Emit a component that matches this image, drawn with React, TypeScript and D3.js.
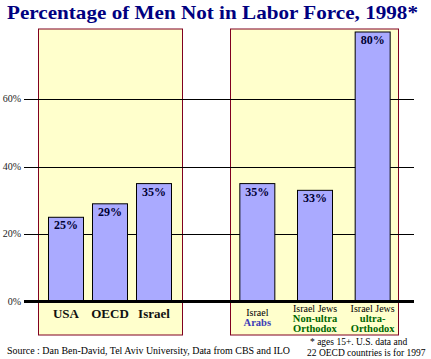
import React from 'react';
import * as d3 from 'd3';

const W = 431;
const H = 359;

// data
const leftCats = ['USA', 'OECD', 'Israel'];
const leftValues = [25, 29, 35];
const rightCats = ['Arabs', 'Non-ultra', 'ultra-'];
const rightValues = [35, 33, 80];
const yTicks = [0, 20, 40, 60];
const rightLabels = [
  ['Israel', 'Arabs'],
  ['Israel Jews', 'Non-ultra', 'Orthodox'],
  ['Israel Jews', 'ultra-', 'Orthodox'],
];

const TITLE = 'Percentage of Men Not in Labor Force, 1998*';
const SOURCE = 'Source : Dan Ben-David, Tel Aviv University, Data from CBS and ILO';
const NOTE = ['* ages 15+. U.S. data and', '22 OECD countries is for 1997'];

const serif = 'Liberation Serif, DejaVu Serif, Times New Roman, serif';
const barFill = '#aaaaff';
const panelFill = '#ffffcc';
const panelStroke = '#800020';
const navy = '#000080';

const App: React.FC = () => {
  const y = d3.scaleLinear().domain([0, 80]).range([301.5, 32]);
  const xLeft = d3.scalePoint<string>().domain(leftCats).range([44, 176]).padding(0.5);
  const xRight = d3.scalePoint<string>().domain(rightCats).range([228.5, 401.5]).padding(0.5);
  const barW = 35;

  const panels = [
    { x: 38.5, w: 144 },
    { x: 230.5, w: 168 },
  ];

  const bars = [
    ...leftCats.map((c, i) => ({ cx: xLeft(c)!, v: leftValues[i] })),
    ...rightCats.map((c, i) => ({ cx: xRight(c)!, v: rightValues[i] })),
  ];

  return (
    <svg
      width={W}
      height={H}
      style={{ position: 'absolute', left: 0, top: 0, background: '#fff', fontFamily: serif }}
    >
      <text
        x={7}
        y={19}
        fontWeight="bold"
        fontSize={19}
        fill={navy}
        textLength={411}
        lengthAdjust="spacingAndGlyphs"
      >
        {TITLE}
      </text>

      {panels.map((p, i) => (
        <rect
          key={i}
          x={p.x}
          y={29}
          width={p.w}
          height={306}
          fill={panelFill}
          stroke={panelStroke}
          strokeWidth={1}
        />
      ))}

      {yTicks.filter((t) => t > 0).map((t) => (
        <line key={t} x1={24} x2={414} y1={Math.round(y(t)) + 0.5} y2={Math.round(y(t)) + 0.5} stroke="#000" strokeWidth={1} />
      ))}

      {yTicks.map((t) => (
        <text key={t} x={21} y={y(t) + 3} textAnchor="end" fontSize={10} fill="#222">
          {t}%
        </text>
      ))}

      {bars.map((b, i) => (
        <g key={i}>
          <rect
            x={b.cx - barW / 2}
            y={y(b.v)}
            width={barW}
            height={y(0) - y(b.v)}
            fill={barFill}
            stroke="#000"
            strokeWidth={1}
          />
          <text
            x={b.cx}
            y={y(b.v) + 12}
            textAnchor="middle"
            fontWeight="bold"
            fontSize={12}
            fill="#000033"
          >
            {b.v}%
          </text>
        </g>
      ))}

      <line x1={24} x2={414} y1={y(0)} y2={y(0)} stroke="#000" strokeWidth={3} />

      {leftCats.map((c) => (
        <text
          key={c}
          x={xLeft(c)!}
          y={318}
          textAnchor="middle"
          fontWeight="bold"
          fontSize={13}
          fill="#111"
        >
          {c}
        </text>
      ))}

      {rightCats.map((c, i) => {
        const lines = rightLabels[i];
        const top = lines.length === 2 ? 315.5 : 312;
        return (
          <g key={c}>
            {lines.map((l, j) => (
              <text
                key={j}
                x={xRight(c)!}
                y={top + j * 10}
                textAnchor="middle"
                fontWeight={j === 0 ? 'normal' : 'bold'}
                fontSize={j === 0 ? 10 : 10.5}
                fill={j === 0 ? '#000' : i === 0 ? '#3b3bb8' : '#006600'}
              >
                {l}
              </text>
            ))}
          </g>
        );
      })}

      <text x={7} y={354} fontSize={9.5} fill="#000" textLength={283} lengthAdjust="spacingAndGlyphs">
        {SOURCE}
      </text>
      {NOTE.map((n, i) => (
        <text key={i} x={i === 0 ? 310 : 307} y={345 + i * 11} fontSize={9.5} fill="#000">
          {n}
        </text>
      ))}
    </svg>
  );
};

export default App;
